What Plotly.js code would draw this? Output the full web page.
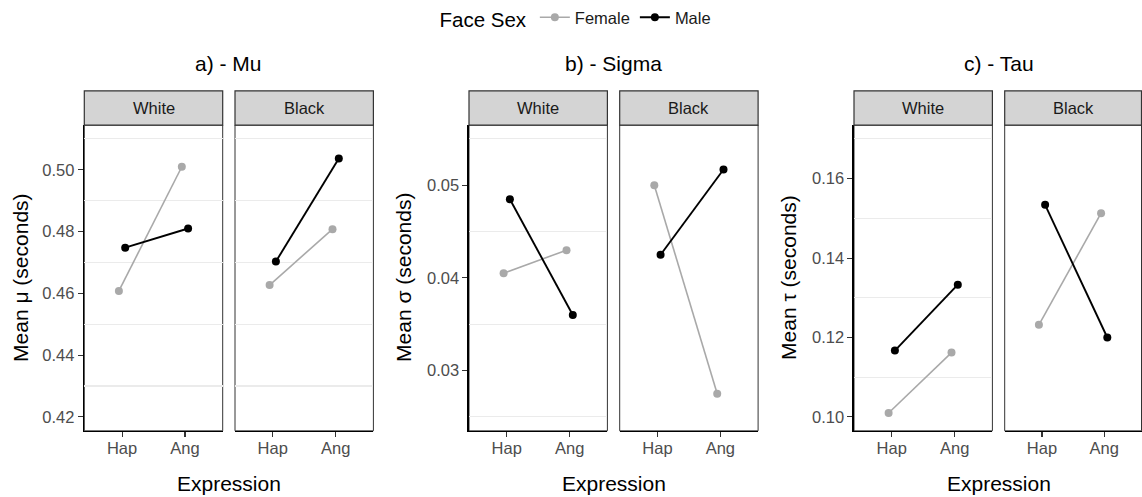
<!DOCTYPE html>
<html>
<head>
<meta charset="utf-8">
<script src="https://cdn.plot.ly/plotly-3.0.1.min.js"></script>
<style>html,body{margin:0;padding:0;background:#fff;}#chart{width:1142px;height:497px;}</style>
</head>
<body>
<div id="chart"></div>
<script>
// ---------- data ----------
const categories = ['Hap', 'Ang'];
const facets = ['White', 'Black'];
const sexes = ['Female', 'Male'];
const panelTitles = ['a) - Mu', 'b) - Sigma', 'c) - Tau'];
const yTitles = ['Mean \u03BC (seconds)', 'Mean \u03C3 (seconds)', 'Mean \u03C4 (seconds)'];
const xTitle = 'Expression';
const legendTitle = 'Face Sex';

const mu_female_white = [0.4608, 0.5010];
const mu_male_white   = [0.4748, 0.4810];
const mu_female_black = [0.4627, 0.4808];
const mu_male_black   = [0.4703, 0.5037];

const sigma_female_white = [0.0405, 0.0430];
const sigma_male_white   = [0.0485, 0.0360];
const sigma_female_black = [0.0500, 0.0275];
const sigma_male_black   = [0.0425, 0.0517];

const tau_female_white = [0.1010, 0.1162];
const tau_male_white   = [0.1167, 0.1333];
const tau_female_black = [0.1232, 0.1513];
const tau_male_black   = [0.1534, 0.1200];

const mu_ticks = [0.42, 0.44, 0.46, 0.48, 0.50];
const sigma_ticks = [0.03, 0.04, 0.05];
const tau_ticks = [0.10, 0.12, 0.14, 0.16];

// ---------- layout helpers ----------
const W = 1142, H = 497;
const px = x => x / W;
const py = y => 1 - y / H;
const FONT = 'Liberation Sans, Arial, Helvetica, sans-serif';
const colors = {Female: '#A9A9A9', Male: '#000000'};
const dodge = {Female: -0.05, Male: 0.05};

const panels = [
  {data: [[mu_female_white, mu_male_white], [mu_female_black, mu_male_black]], ticks: mu_ticks, range: [0.4155, 0.5145], minor0: 0.43, step: 0.02},
  {data: [[sigma_female_white, sigma_male_white], [sigma_female_black, sigma_male_black]], ticks: sigma_ticks, range: [0.02350, 0.05650], minor0: 0.025, step: 0.01},
  {data: [[tau_female_white, tau_male_white], [tau_female_black, tau_male_black]], ticks: tau_ticks, range: [0.0965, 0.1735], minor0: 0.11, step: 0.02}
];
const panelLeft = [84.3, 469, 854];
const facetW = 138.4, facetGap = 12.3;
const plotTop = 124.3, plotBot = 430.7, stripTop = 90;

const traces = [];
const layout = {
  width: W, height: H,
  margin: {l: 0, r: 0, t: 0, b: 0},
  paper_bgcolor: '#fff', plot_bgcolor: '#fff',
  font: {family: FONT, color: '#000'},
  showlegend: true,
  legend: {
    orientation: 'h', x: px(577), xanchor: 'center', y: py(18), yanchor: 'middle',
    title: {text: legendTitle, side: 'left', font: {size: 20.5, color: '#000'}},
    font: {size: 16.5, color: '#1a1a1a'}, itemwidth: 30, tracegroupgap: 0,
    bgcolor: 'rgba(0,0,0,0)'
  },
  shapes: [], annotations: []
};

let idx = 0;
panels.forEach((p, pi) => {
  facets.forEach((f, fi) => {
    idx++;
    const xa = 'xaxis' + (idx === 1 ? '' : idx), ya = 'yaxis' + (idx === 1 ? '' : idx);
    const xr = 'x' + (idx === 1 ? '' : idx), yr = 'y' + (idx === 1 ? '' : idx);
    const left = panelLeft[pi] + fi * (facetW + facetGap);
    const right = Math.min(left + facetW, W - 0.5);
    layout[xa] = {
      domain: [px(left), px(right)], anchor: yr, range: [0.4, 2.6],
      tickmode: 'array', tickvals: categories.map((c, i) => i + 1), ticktext: categories,
      ticks: 'outside', ticklen: 5, tickwidth: 1.1, tickcolor: '#333',
      ticklabelstandoff: -3,
      showline: true, linecolor: '#000', linewidth: 1.6,
      showgrid: false, zeroline: false,
      tickfont: {size: 16.5, color: '#4D4D4D', family: FONT}, fixedrange: true
    };
    const yax = {
      domain: [py(plotBot), py(plotTop)], anchor: xr, range: p.range,
      showgrid: false, zeroline: false,
      minor: {tick0: p.minor0, dtick: p.step, showgrid: true, gridcolor: '#EBEBEB', gridwidth: 1.1},
      fixedrange: true
    };
    if (fi === 0) {
      Object.assign(yax, {
        tickmode: 'array', tickvals: p.ticks, ticktext: p.ticks.map(v => v.toFixed(2)),
        ticks: 'outside', ticklen: 5, tickwidth: 1.1, tickcolor: '#333',
        showline: true, linecolor: '#000', linewidth: 1.6,
        tickfont: {size: 16.5, color: '#4D4D4D', family: FONT}
      });
    } else {
      Object.assign(yax, {showticklabels: false, ticks: '', showline: false});
    }
    layout[ya] = yax;

    // panel border
    layout.shapes.push({type: 'rect', xref: 'paper', yref: 'paper', x0: px(left), x1: px(right), y0: py(plotBot), y1: py(plotTop),
      line: {color: '#333', width: 1}, fillcolor: 'rgba(0,0,0,0)', layer: 'below'});
    // strip
    layout.shapes.push({type: 'rect', xref: 'paper', yref: 'paper', x0: px(left), x1: px(right), y0: py(plotTop), y1: py(stripTop),
      line: {color: '#333', width: 1.2}, fillcolor: '#D4D4D4', layer: 'above'});
    layout.annotations.push({xref: 'paper', yref: 'paper', x: px((left + left + facetW) / 2), y: py((plotTop + stripTop) / 2),
      text: f, showarrow: false, xanchor: 'center', yanchor: 'middle', font: {size: 16.5, color: '#1A1A1A', family: FONT}});

    sexes.forEach((s, si) => {
      traces.push({
        type: 'scatter', mode: 'lines+markers',
        x: categories.map((c, i) => i + 1 + dodge[s]), y: p.data[fi][si],
        xaxis: xr, yaxis: yr, name: s, legendgroup: s,
        showlegend: idx === 1,
        line: {color: colors[s], width: s === 'Male' ? 1.9 : 1.6},
        marker: {color: colors[s], size: 8},
        hoverinfo: 'skip'
      });
    });
  });
  const center = panelLeft[pi] + (2 * facetW + facetGap) / 2;
  layout.annotations.push({xref: 'paper', yref: 'paper', x: px(center), y: py(63), text: panelTitles[pi], showarrow: false,
    xanchor: 'center', yanchor: 'middle', font: {size: 21, color: '#000', family: FONT}});
  layout.annotations.push({xref: 'paper', yref: 'paper', x: px(center), y: py(483), text: xTitle, showarrow: false,
    xanchor: 'center', yanchor: 'middle', font: {size: 21, color: '#000', family: FONT}});
  const yTitleX = [21, 404, 789][pi];
  layout.annotations.push({xref: 'paper', yref: 'paper', x: px(yTitleX), y: py((plotTop + plotBot) / 2), text: yTitles[pi], showarrow: false,
    textangle: -90, xanchor: 'center', yanchor: 'middle', font: {size: 21, color: '#000', family: FONT}});
});

Plotly.newPlot('chart', traces, layout, {displayModeBar: false, staticPlot: true});
</script>
</body>
</html>
